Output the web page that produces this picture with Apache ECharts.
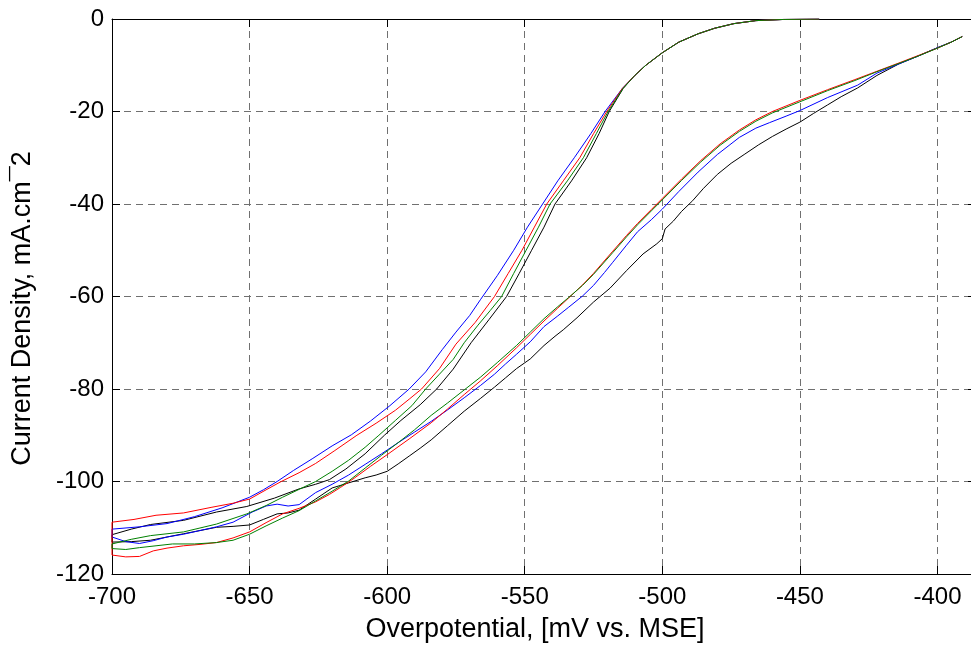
<!DOCTYPE html>
<html><head><meta charset="utf-8">
<script src="https://cdn.jsdelivr.net/npm/echarts@6/dist/echarts.min.js"></script>
<style>html,body{margin:0;padding:0;background:#fff;overflow:hidden;width:971px;height:648px}#c{width:1000px;height:648px}</style>
</head><body><div id="c"></div>
<script>
// Axis ticks
const xTickLabels = [-700, -650, -600, -550, -500, -450, -400];
const yTickLabels = [0, -20, -40, -60, -80, -100, -120];

// Return-sweep branches (right loops), [potential mV, current density mA/cm2]
const blueRight = [[-700,-112],[-695,-113],[-690,-113.4],[-685,-112.8],[-680,-112],[-674,-111.4],[-668,-110.6],[-662,-109.8],[-656,-108.8],[-649,-106.6],[-644,-105.3],[-640,-104.9],[-636,-105.3],[-632,-105],[-626,-102.4],[-620,-100.6],[-614,-98.6],[-608,-96.3],[-602,-94],[-596,-91.6],[-590,-89.3],[-584,-87],[-578,-84.5],[-572,-81.9],[-566,-79.2],[-561,-76.8],[-557,-74.6],[-553,-72.5],[-548,-69.8],[-543,-66.5],[-538,-64.2],[-534,-62.3],[-529,-59.9],[-525,-57.6],[-521,-54.8],[-518,-52.6],[-513,-48.9],[-509,-46],[-504,-43.4],[-500,-41.1],[-494,-37.3],[-487,-33.1],[-480,-29.3],[-472,-25.6],[-466,-23.6],[-461,-22.4],[-455,-21],[-450,-19.8],[-440,-17],[-429,-14.3],[-422,-11.7],[-414,-9.7],[-407,-8],[-400,-6.2],[-395,-5],[-391,-3.8]];
const redRight = [[-700,-115.9],[-695,-116.3],[-690,-116.2],[-685,-115],[-680,-114.4],[-674,-113.9],[-668,-113.6],[-662,-113.2],[-656,-112.2],[-650,-110.9],[-644,-108.9],[-638,-107],[-632,-105.8],[-626,-104.4],[-621,-102.8],[-617,-101.3],[-612,-99.3],[-606,-96.7],[-600,-94.2],[-592,-90.8],[-584,-87.3],[-578,-84.3],[-572,-81.2],[-566,-78.2],[-560,-75],[-553,-71.1],[-548,-68.2],[-543,-65.3],[-538,-62.5],[-534,-60.3],[-529,-57.5],[-525,-55],[-518,-50.2],[-513,-46.8],[-509,-44.2],[-504,-41.2],[-500,-38.8],[-493,-34.6],[-486,-30.6],[-479,-27],[-472,-24],[-466,-21.8],[-460,-20],[-450,-17.6],[-440,-15.3],[-430,-13.1],[-422,-11.3],[-414,-9.5],[-407,-7.9],[-400,-6.3],[-395,-5],[-391,-3.8]];
const greenRight = [[-700,-114.5],[-695,-114.7],[-690,-114.3],[-684,-113.9],[-678,-113.5],[-670,-113.5],[-662,-113.2],[-656,-112.7],[-650,-111.4],[-644,-109.6],[-638,-107.9],[-632,-106.3],[-626,-104.2],[-620,-102.1],[-614,-99.9],[-608,-97.1],[-602,-94.3],[-596,-91.6],[-590,-88.8],[-584,-85.7],[-578,-83],[-572,-80.2],[-566,-77.4],[-560,-74.3],[-553,-70.6],[-548,-67.7],[-543,-64.8],[-538,-62.2],[-534,-60.2],[-529,-57.6],[-525,-55.2],[-518,-50.5],[-513,-47.1],[-509,-44.5],[-504,-41.5],[-500,-39.1],[-493,-34.9],[-486,-30.9],[-479,-27.3],[-472,-24.3],[-466,-22.1],[-460,-20.3],[-450,-17.9],[-440,-15.5],[-430,-13.3],[-422,-11.4],[-414,-9.6],[-407,-8],[-400,-6.3],[-395,-5],[-391,-3.8]];
const blackRight = [[-700,-113.1],[-693,-113],[-686,-112.7],[-680,-112],[-674,-111.3],[-668,-110.6],[-662,-109.9],[-656,-109.7],[-650,-109.4],[-645,-108.2],[-640,-107],[-636,-106.8],[-632,-106.2],[-626,-103.8],[-620,-101.4],[-614,-100.3],[-608,-99.2],[-604,-98.6],[-600,-97.8],[-596,-96.2],[-592,-94.5],[-588,-92.8],[-584,-91],[-578,-87.9],[-572,-84.8],[-566,-82],[-561,-79.6],[-557,-77.6],[-553,-75.6],[-548,-73.5],[-543,-70.6],[-539,-68.6],[-536,-67.2],[-531,-64.6],[-525,-61.2],[-519,-58.2],[-513,-54.4],[-507,-50.8],[-502,-48.6],[-500,-47.5],[-499,-45.4],[-496,-43.7],[-493,-41.6],[-489,-39.3],[-485,-36.6],[-480,-33.6],[-475,-31.2],[-470,-29.2],[-465,-27.2],[-460,-25.4],[-455,-23.8],[-450,-22.3],[-445,-20.4],[-440,-18.6],[-435,-16.8],[-429,-14.9],[-422,-12.2],[-414,-9.7],[-407,-8],[-400,-6.2],[-395,-5],[-391,-3.8]];

// Forward-sweep branches (left loops)
const blueLeft = [[-700,-110.3],[-690,-109.8],[-680,-109.1],[-670,-107.6],[-660,-105.7],[-650,-103.4],[-645,-101.8],[-640,-100],[-634,-97.6],[-627,-95],[-620,-92.3],[-613,-89.9],[-606,-86.9],[-599,-83.6],[-592,-80],[-586,-76.3],[-580,-71.5],[-575,-67.7],[-570,-64.1],[-566,-60.6],[-560,-55.5],[-554,-50],[-549,-45],[-543.5,-40],[-538,-35],[-532,-30],[-526,-24.8],[-520.8,-20],[-514.5,-15],[-510,-12.2],[-506,-10],[-500,-7.3],[-494,-5],[-487,-3.2],[-481,-2],[-474,-1],[-466,-0.35],[-456,-0.1],[-443,0]];
const redLeft = [[-700,-108.8],[-692,-108.2],[-684,-107.3],[-674,-106.8],[-664,-105.6],[-656,-104.7],[-650,-103.8],[-644,-101.8],[-638.5,-100],[-632,-98.1],[-626,-96.1],[-619,-93.3],[-611,-90],[-604,-87.4],[-597,-84.6],[-592,-82.2],[-587.5,-80],[-581,-75.6],[-575,-70.3],[-568,-65.6],[-561,-60],[-556,-55],[-551,-50],[-546.5,-45],[-542,-40],[-536,-35],[-530,-30],[-525,-24.8],[-520.2,-20],[-514.5,-15],[-510,-12.2],[-506,-10],[-500,-7.3],[-494,-5],[-487,-3.2],[-481,-2],[-474,-1],[-466,-0.35],[-456,-0.1],[-443,0]];
const greenLeft = [[-700,-113.5],[-693,-112.5],[-686,-111.7],[-674,-110.9],[-662,-109.2],[-651,-107],[-644,-105.2],[-638,-103.4],[-632,-101.7],[-626,-100],[-620,-97.8],[-614,-95.4],[-608,-92.6],[-603,-90],[-597,-86.8],[-591,-83.6],[-586,-80],[-581,-76.8],[-576,-73.6],[-572,-70],[-567,-66.2],[-562.5,-63],[-558.4,-60],[-554,-55],[-549.5,-50],[-545,-45],[-540.8,-40],[-534.5,-35],[-528.7,-30],[-524,-24.8],[-519.7,-20],[-514.3,-15],[-510,-12.2],[-506,-10],[-500,-7.3],[-494,-5],[-487,-3.2],[-481,-2],[-474,-1],[-466,-0.35],[-456,-0.1],[-443,0]];
const blackLeft = [[-700,-111.5],[-693,-110.3],[-686,-109.3],[-674,-108.4],[-662,-106.6],[-651,-105.4],[-641,-103.6],[-632,-101.6],[-626,-100.6],[-621,-99.6],[-615,-97.3],[-608,-94],[-601,-90],[-595,-86.8],[-588,-83.4],[-582,-80],[-576,-75.7],[-569.5,-70],[-563,-65],[-556.6,-60],[-552,-55],[-547.5,-50],[-543,-45],[-539,-40],[-533,-35],[-527.5,-30],[-523,-24.8],[-519.3,-20],[-514.2,-15],[-510,-12.2],[-506,-10],[-500,-7.3],[-494,-5],[-487,-3.2],[-481,-2],[-474,-1],[-466,-0.35],[-456,-0.1],[-443,0]];

const FONT = '"Liberation Sans", Arial, Helvetica, sans-serif';
function loop(right, left) { return right.slice().reverse().concat(left); }
const curves = [
  {name: 'black', color: '#000000', data: loop(blackRight, blackLeft)},
  {name: 'blue', color: '#0000ff', data: loop(blueRight, blueLeft)},
  {name: 'red', color: '#ff0000', data: loop(redRight, redLeft)},
  {name: 'green', color: '#008000', data: loop(greenRight, greenLeft)}
];

const chart = echarts.init(document.getElementById('c'), null, {renderer: 'canvas'});
const gridDash = {show: true, lineStyle: {color: '#707070', width: 1, type: [7, 5]}};
const blackLine = {show: true, onZero: false, lineStyle: {color: '#000', width: 1}};
const tick = {show: true, inside: true, length: 8, lineStyle: {color: '#000', width: 1}};
chart.setOption({
  animation: false,
  backgroundColor: '#fff',
  grid: {left: 112, top: 19, right: 24, bottom: 71},
  xAxis: [{
    type: 'value', min: -700, max: -386, interval: 50, position: 'bottom',
    axisLine: blackLine, axisTick: tick, splitLine: gridDash,
    axisLabel: {fontSize: 24, color: '#000', fontFamily: FONT, margin: 11,
      formatter: v => xTickLabels.indexOf(v) >= 0 ? String(v) : ''},
    name: 'Overpotential, [mV vs. MSE]', nameLocation: 'middle', nameGap: 42,
    nameTextStyle: {fontSize: 27, color: '#000', fontFamily: FONT, padding: [0, 18, 0, 0]}
  }, {
    type: 'value', min: -700, max: -386, interval: 50, position: 'top',
    axisLine: blackLine, axisTick: tick, axisLabel: {show: false}, splitLine: {show: false}
  }],
  yAxis: [{
    type: 'value', min: -120, max: 0, interval: 20, position: 'left',
    axisLine: blackLine, axisTick: tick, splitLine: gridDash,
    axisLabel: {fontSize: 24, color: '#000', fontFamily: FONT, margin: 8,
      formatter: v => yTickLabels.indexOf(v) >= 0 ? String(v) : ''},
    name: 'Current Density, mA.cm\u00AF2', nameLocation: 'middle', nameGap: 76, nameRotate: 90,
    nameTextStyle: {fontSize: 27, color: '#000', fontFamily: FONT, padding: [0, 24, 0, 0]}
  }, {
    type: 'value', min: -120, max: 0, interval: 20, position: 'right',
    axisLine: blackLine, axisTick: tick, axisLabel: {show: false}, splitLine: {show: false}
  }],
  series: curves.map(c => ({
    name: c.name, type: 'line', data: c.data, showSymbol: false, symbol: 'none',
    xAxisIndex: 0, yAxisIndex: 0, clip: true,
    lineStyle: {color: c.color, width: 1}, itemStyle: {color: c.color}
  }))
});
</script></body></html>
